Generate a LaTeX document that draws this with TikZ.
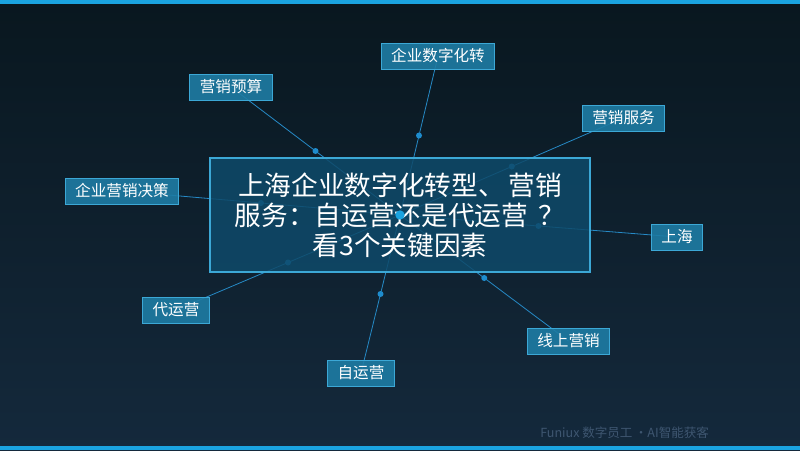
\documentclass[tikz,border=0pt]{standalone}
\usepackage{fontspec}
\setmainfont{Noto Sans CJK SC}
\usetikzlibrary{backgrounds}
\definecolor{fxbar}{RGB}{26,163,224}
\definecolor{fxtop}{RGB}{9,23,31}
\definecolor{fxbot}{RGB}{20,41,60}
\definecolor{fxline}{RGB}{38,138,198}
\definecolor{fxdot}{RGB}{30,140,205}
\definecolor{fxbox}{RGB}{30,124,164}
\definecolor{fxedge}{RGB}{60,168,214}
\definecolor{fxhub}{RGB}{14,74,106}
\definecolor{fxfoot}{RGB}{62,86,112}
\tikzset{
  hub/.style={rectangle, draw=fxedge, line width=0.9pt, fill=fxhub, fill opacity=0.85,
              text opacity=1, text=white, align=center, inner sep=0pt,
              font=\fontsize{20}{22.5}\selectfont, minimum width=285pt, minimum height=85.5pt},
  lbl/.style={rectangle, draw=fxedge, line width=0.6pt, fill=fxbox, fill opacity=0.9,
              text opacity=1, text=white, inner xsep=7.5pt, inner ysep=0pt,
              font=\fontsize{11.7}{14}\selectfont, minimum height=19.5pt},
  link/.style={fxline, line width=0.6pt},
  pip/.style={circle, fill=fxdot, inner sep=0pt, minimum size=4.5pt},
  hubpip/.style={circle, fill=fxbar, inner sep=0pt, minimum size=7pt},
}

\begin{document}
\begin{tikzpicture}[x=0.75pt, y=-0.75pt]
        \useasboundingbox (0,0) rectangle (800,450);

        \node[hub](hub) at (400,215){上海企业数字化转型、\kern0.15em营销\\服务：自运营还是代运营\kern0.4em？\\看3个关键因素};
        \node[lbl](tr) at (438,56){企业数字化转};
        \node[lbl](bud) at (231,87){营销预算};
        \node[lbl](svc) at (623.5,118){营销服务};
        \node[lbl](dec) at (122,191){企业营销决策};
        \node[lbl](sh) at (677,237){上海};
        \node[lbl](agt) at (176,310){代运营};
        \node[lbl](own) at (361,373){自运营};
        \node[lbl](onl) at (568.5,341){线上营销};
        \node[hubpip] at (hub.center){};

        \node[anchor=west, text=fxfoot, font=\fontsize{9.4}{11}\selectfont, inner sep=0pt](foot) at (540,433){Funiux 数字员工\kern0.2em·AI智能获客};

        \begin{scope}[on background layer]
            \shade[top color=fxtop, bottom color=fxbot] (0,0) rectangle (800,450);
            \fill[fxbar] (0,0) rectangle (800,4);
            \fill[fxbar] (0,446) rectangle (800,450);

            \draw[link](hub.center)-- node[pip]{} (tr.center);
            \draw[link](hub.center)-- node[pip]{} (bud.center);
            \draw[link](hub.center)-- node[pip]{} (svc.center);
            \draw[link](hub.center)-- node[pip]{} (dec.center);
            \draw[link](hub.center)-- node[pip]{} (sh.center);
            \draw[link](hub.center)-- node[pip]{} (agt.center);
            \draw[link](hub.center)-- node[pip]{} (own.center);
            \draw[link](hub.center)-- node[pip]{} (onl.center);
        \end{scope}
    \end{tikzpicture}
\end{document}
